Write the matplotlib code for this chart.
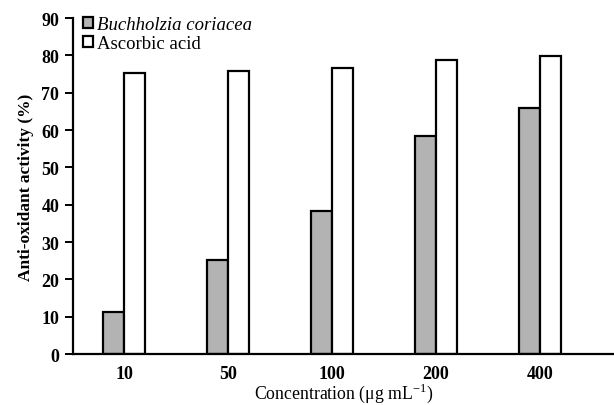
import matplotlib
matplotlib.use("Agg")
import matplotlib.pyplot as plt
import numpy as np

# data
concentrations = ["10", "50", "100", "200", "400"]
buchholzia = [11.2, 25.1, 38.3, 58.5, 65.8]
ascorbic = [75.2, 75.8, 76.6, 78.7, 79.8]

plt.rcParams['font.family'] = ['Liberation Serif', 'DejaVu Serif']
plt.rcParams['mathtext.fontset'] = 'custom'
plt.rcParams['mathtext.rm'] = 'Liberation Serif'

fig = plt.figure(figsize=(6.14, 4.06), dpi=100)
ax = fig.add_axes([0.119, 0.1256, 0.881, 0.8275])

x = np.arange(len(concentrations))
w = 0.205
ax.bar(x - w/2, buchholzia, w, color="#b3b3b3", edgecolor="black", linewidth=1.6,
       label="Buchholzia coriacea")
ax.bar(x + w/2, ascorbic, w, color="white", edgecolor="black", linewidth=1.6,
       label="Ascorbic acid")

ax.set_xlim(-0.49, 4.71)
ax.set_ylim(0, 90)
ax.set_yticks(range(0, 91, 10))
ax.set_xticks(x)
ax.set_xticklabels(concentrations)

for s in ["top", "right"]:
    ax.spines[s].set_visible(False)
for s in ["left", "bottom"]:
    ax.spines[s].set_linewidth(1.6)
ax.tick_params(axis="y", length=6, width=1.4, labelsize=13, direction="out", pad=4)
ax.tick_params(axis="x", length=0, labelsize=13, pad=8)
for lab in ax.get_xticklabels() + ax.get_yticklabels():
    lab.set_fontweight("bold")

ax.set_ylabel("Anti-oxidant activity (%)", fontsize=12.5, fontweight="bold", labelpad=5)
ax.set_xlabel("Concentration (\u03bcg mL$^{\\mathrm{-1}}$)", fontsize=12.8, labelpad=-1)

leg = ax.legend(loc="upper left", bbox_to_anchor=(-0.006, 1.045), frameon=False,
                prop={"family": "Liberation Serif", "size": 13.5},
                handlelength=0.55, handleheight=0.55,
                handletextpad=0.2, labelspacing=0.1, borderpad=0.2)
leg.get_texts()[0].set_fontstyle("italic")

fig.savefig("out.png", dpi=100)
